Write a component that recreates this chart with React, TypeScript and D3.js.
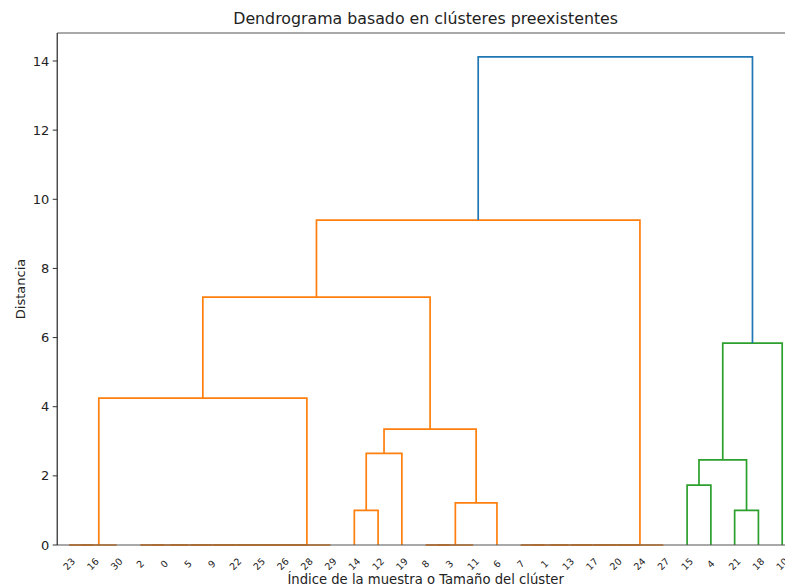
import React from 'react';
import * as d3 from 'd3';

// leaf labels in the order they appear along the x axis
const leafLabels = [23, 16, 30, 2, 0, 5, 9, 22, 25, 26, 28, 29, 14, 12, 19, 8, 3, 11, 6, 7, 1, 13, 17, 20, 24, 27, 15, 4, 21, 18, 10];

// linkage rows (scipy style): [nodeA, nodeB, distance]; node n + i is row i
const linkA = [23, 31, 2, 33, 34, 35, 36, 37, 38, 39, 8, 41, 7, 43, 44, 45, 46, 47, 14, 21, 42, 15, 52, 49, 54, 32, 53, 56, 58, 59];
const linkB = [16, 30, 0, 5, 9, 22, 25, 26, 28, 29, 3, 11, 1, 13, 17, 20, 24, 27, 12, 18, 6, 4, 50, 19, 51, 40, 10, 55, 48, 57];
const linkDist = [0, 0, 0, 0, 0, 0, 0, 0, 0, 0, 0, 0, 0, 0, 0, 0, 0, 0, 1.0, 1.0, 1.22, 1.73, 2.46, 2.65, 3.35, 4.25, 5.84, 7.17, 9.40, 14.12];

const yTicks = [0, 2, 4, 6, 8, 10, 12, 14];
const clusterColors = ['#ff7f0e', '#2ca02c'];
const aboveColor = '#1f77b4';

const W = 785;
const H = 588;
const margin = { top: 33, left: 57.2, bottom: 43 };
const font = 'DejaVu Sans, sans-serif';

type Link = { xa: number; xb: number; ha: number; hb: number; h: number; color: string };

function buildLinks(): Link[] {
  const n = leafLabels.length;
  const pos: Record<number, number> = {};
  const height: Record<number, number> = {};
  leafLabels.forEach((lab, i) => {
    pos[lab] = 5 + 10 * i;
    height[lab] = 0;
  });
  linkA.forEach((a, i) => {
    pos[n + i] = (pos[a] + pos[linkB[i]]) / 2;
    height[n + i] = linkDist[i];
  });
  const threshold = 0.7 * d3.max(linkDist)!;
  const links: Link[] = [];
  let ci = 0;
  const walk = (node: number, color: string | null) => {
    if (node < n) return;
    const i = node - n;
    let c = color;
    if (c === null && linkDist[i] < threshold) {
      c = clusterColors[ci % clusterColors.length];
      ci++;
    }
    const a = linkA[i];
    const b = linkB[i];
    // left subtree first so cluster colours go left to right
    const [l, r] = pos[a] <= pos[b] ? [a, b] : [b, a];
    walk(l, c);
    walk(r, c);
    links.push({ xa: pos[l], xb: pos[r], ha: height[l], hb: height[r], h: linkDist[i], color: c ?? aboveColor });
  };
  walk(n + linkDist.length - 1, null);
  return links;
}

export default function App() {
  const links = buildLinks();
  const x = d3.scaleLinear().domain([0, 10 * leafLabels.length]).range([margin.left, margin.left + 23.77 * leafLabels.length]);
  const y = d3.scaleLinear().domain([0, 14.81]).range([H - margin.bottom, margin.top]);
  const x0 = margin.left;
  const x1 = x.range()[1];
  const yb = y(0);

  return (
    <svg width={W} height={H} style={{ position: 'absolute', left: 0, top: 0, background: '#fff', overflow: 'hidden' }} fontFamily={font}>
      <rect width={W} height={H} fill="#fff" />
      <text x={(x0 + x1) / 2} y={24} textAnchor="middle" fontSize={15.8} fill="#222">
        Dendrograma basado en clústeres preexistentes
      </text>

      {links.map((d, i) => (
        <path
          key={i}
          d={`M${x(d.xa)},${y(d.ha)}V${y(d.h)}H${x(d.xb)}V${y(d.hb)}`}
          fill="none"
          stroke={d.color}
          strokeWidth={1.7}
        />
      ))}

      {/* spines */}
      <line x1={x0} x2={x1} y1={margin.top} y2={margin.top} stroke="#555" strokeWidth={1.1} />
      <line x1={x0} x2={x1} y1={yb} y2={yb} stroke="#555" strokeWidth={1.1} />
      <line x1={x0} x2={x0} y1={margin.top} y2={yb} stroke="#111" strokeWidth={1.1} />

      {yTicks.map(t => (
        <g key={t} transform={`translate(${x0},${y(t)})`}>
          <line x1={-4.5} x2={0} stroke="#333" strokeWidth={1} />
          <text x={-8} dy="0.35em" textAnchor="end" fontSize={13} fill="#222">{t}</text>
        </g>
      ))}

      {leafLabels.map((lab, i) => (
        <text
          key={lab}
          transform={`translate(${x(5 + 10 * i)},${yb + 19}) rotate(-45)`}
          textAnchor="middle"
          dy="0.35em"
          fontSize={9.5}
          fill="#222"
        >
          {lab}
        </text>
      ))}

      <text x={(x0 + x1) / 2} y={584} textAnchor="middle" fontSize={13.2} fill="#222">
        Índice de la muestra o Tamaño del clúster
      </text>
      <text transform={`translate(25,${(margin.top + yb) / 2}) rotate(-90)`} textAnchor="middle" fontSize={13} fill="#222">
        Distancia
      </text>
    </svg>
  );
}
